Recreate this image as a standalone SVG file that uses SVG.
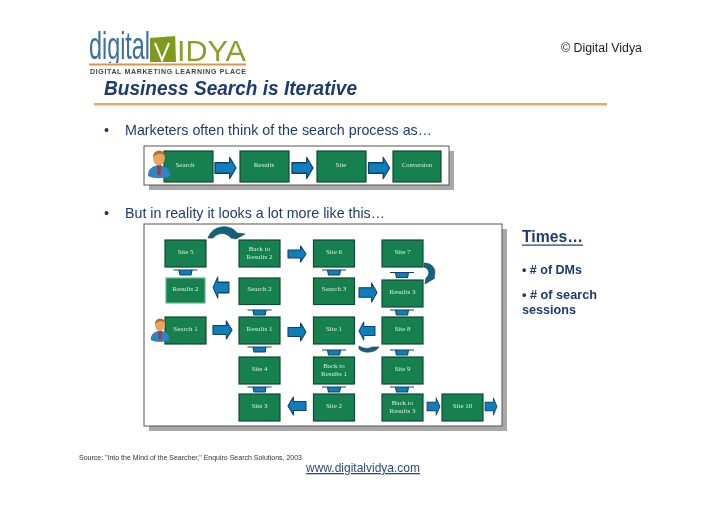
<svg xmlns="http://www.w3.org/2000/svg" xmlns:xlink="http://www.w3.org/1999/xlink" width="728" height="515" viewBox="0 0 728 515">
<style>
text{font-family:"Liberation Sans",Arial,sans-serif}
.box{fill:#14814f;stroke:#0d4a36;stroke-width:1.2}
.lt{fill:#14814f;stroke:#5fb98c;stroke-width:1.2}
.nt{fill:#d5efe2;font-family:"Liberation Serif",serif;font-size:7px;text-anchor:middle}
.frame{fill:#fff;stroke:#555;stroke-width:1}
.shadow{fill:#a9a9a9}
.arr{fill:#0f7fbd;stroke:#12405e;stroke-width:1.2;stroke-linejoin:round}
.curve{fill:#17607f;stroke:#123f58;stroke-width:.6}
.blue{fill:#1f3a6e}
.b{font-weight:bold}
</style>
<defs>
<filter id="soft" x="-5%" y="-5%" width="110%" height="110%"><feGaussianBlur stdDeviation="0.55"/></filter>
<clipPath id="logoclip"><rect x="85" y="25" width="170" height="38"/></clipPath>
<path id="ar" class="arr" d="M-10-5H4V-10L10 0 4 10V5H-10Z"/>
<path id="tee" class="arr" d="M-12 0H12M-6.500 0H6.500L5.500 5H-5.500Z"/>
<g id="person">
<path d="M-11 13C-11 5-6 3 0 2 6 3 11 5 11 13 5 16-5 16-11 13Z" fill="#2f83c9"/>
<path d="M-2 2H2L1.500 12H-1.500Z" fill="#9c3b3b"/>
<ellipse cx="0" cy="-5" rx="6" ry="7.500" fill="#e9a562"/>
<path d="M-6-6C-6-14 6-14 6-7 3-10-2-10-6-6Z" fill="#b9701f"/>
</g>
</defs>
<rect width="728" height="515" fill="#fff"/>

<g id="logo" filter="url(#soft)">
<g clip-path="url(#logoclip)">
<text transform="translate(89 59) scale(.615 1)" font-size="38" fill="#3b6fa0">digital</text>
<path d="M150 38 175 36 175 31 176 62H150Z" fill="#7f9a1f"/>
<path d="M155 43 162 60 169 43" fill="none" stroke="#fff" stroke-width="2"/>
<text x="177" y="61" font-size="29" fill="#8aa02c" textLength="69" lengthAdjust="spacingAndGlyphs">IDYA</text>
</g>
<rect x="89" y="63.500" width="157" height="2" fill="#d9954a"/>
<text x="90" y="74" font-size="7" font-weight="bold" fill="#444" textLength="156" lengthAdjust="spacing">DIGITAL MARKETING LEARNING PLACE</text>
</g>

<g id="headings" filter="url(#soft)">
<text x="104" y="95" font-size="20" class="b blue" font-style="italic" textLength="253" lengthAdjust="spacingAndGlyphs">Business Search is Iterative</text>
<rect x="94" y="103" width="513" height="2.500" fill="#f2a55c"/>
<text x="104" y="135" font-size="14.500" class="blue">•</text>
<text x="125" y="135" font-size="14.500" class="blue" textLength="307" lengthAdjust="spacingAndGlyphs">Marketers often think of the search process as…</text>
<text x="104" y="218" font-size="14.500" class="blue">•</text>
<text x="125" y="218" font-size="14.500" class="blue" textLength="260" lengthAdjust="spacingAndGlyphs">But in reality it looks a lot more like this…</text>
</g>

<g id="frames" filter="url(#soft)">
<rect class="shadow" x="149" y="151" width="305" height="39"/>
<rect class="frame" x="144" y="146" width="305" height="39"/>
<rect class="shadow" x="149" y="229" width="358" height="202"/>
<rect class="frame" x="144" y="224" width="358" height="202"/>
</g>

<g id="connectors" filter="url(#soft)">
<use xlink:href="#ar" transform="translate(225.500 168) scale(1.050 1.050)"/>
<use xlink:href="#ar" transform="translate(302.500 168) scale(1.050 1.050)"/>
<use xlink:href="#ar" transform="translate(379 168) scale(1.050 1.050)"/>
<use xlink:href="#ar" transform="translate(297 254) scale(.9 .8)"/>
<use xlink:href="#ar" transform="translate(221 287.500) scale(-.8 1.050)"/>
<use xlink:href="#ar" transform="translate(222.500 330) scale(.95 .9)"/>
<use xlink:href="#ar" transform="translate(297 332) scale(.9 .9)"/>
<use xlink:href="#ar" transform="translate(297 406) scale(-.9 .9)"/>
<use xlink:href="#ar" transform="translate(368 292.500) scale(.9 .95)"/>
<use xlink:href="#ar" transform="translate(367 331) scale(-.8 .9)"/>
<use xlink:href="#ar" transform="translate(433.500 406.500) scale(.65 .85)"/>
<use xlink:href="#ar" transform="translate(491 406.500) scale(.6 .85)"/>
<use xlink:href="#tee" transform="translate(185.500 270)"/>
<use xlink:href="#tee" transform="translate(259.500 310)"/>
<use xlink:href="#tee" transform="translate(259.500 347)"/>
<use xlink:href="#tee" transform="translate(259.500 387)"/>
<use xlink:href="#tee" transform="translate(334 270)"/>
<use xlink:href="#tee" transform="translate(334 350)"/>
<use xlink:href="#tee" transform="translate(334 387)"/>
<use xlink:href="#tee" transform="translate(402 272.500)"/>
<use xlink:href="#tee" transform="translate(402 310)"/>
<use xlink:href="#tee" transform="translate(402 350)"/>
<use xlink:href="#tee" transform="translate(402 387)"/>
<path class="curve" d="M208 238C213 224 231 224 237 233L245 234 236 239 231 238C226 232 218 232 213 238Z"/>
<path class="curve" d="M424 263C433 263 437 270 434 277L435 278 425 284 426 278C430 275 430 269 424 267Z"/>
<path class="curve" d="M359 346C364 349 369 349 372 347L379 347C375 353 364 354 359 349Z"/>
</g>

<g id="node-search" filter="url(#soft)"><rect class="box" x="164" y="151" width="49" height="31"/><text class="nt" x="185" y="167">Search</text></g>
<g id="node-results" filter="url(#soft)"><rect class="box" x="240" y="151" width="49" height="31"/><text class="nt" x="264" y="167">Results</text></g>
<g id="node-site" filter="url(#soft)"><rect class="box" x="317" y="151" width="49" height="31"/><text class="nt" x="341" y="167">Site</text></g>
<g id="node-conversion" filter="url(#soft)"><rect class="box" x="393" y="151" width="48" height="31"/><text class="nt" x="417" y="167" style="font-size:6.500px">Conversion</text></g>
<g id="person-top" filter="url(#soft)"><use xlink:href="#person" transform="translate(159 163)"/></g>

<g id="node-site5" filter="url(#soft)"><rect class="box" x="165" y="240" width="41" height="27"/><text class="nt" x="185.500" y="254">Site 5</text></g>
<g id="node-back2" filter="url(#soft)"><rect class="box" x="239" y="240" width="41" height="27"/><text class="nt" x="259.500" y="251">Back to</text><text class="nt" x="259.500" y="259">Results 2</text></g>
<g id="node-site6" filter="url(#soft)"><rect class="box" x="313.500" y="240" width="41" height="27"/><text class="nt" x="334" y="254">Site 6</text></g>
<g id="node-site7" filter="url(#soft)"><rect class="box" x="382" y="240" width="41" height="27"/><text class="nt" x="402.500" y="254">Site 7</text></g>
<g id="node-results2" filter="url(#soft)"><rect class="lt" x="166" y="278" width="39" height="25"/><text class="nt" x="185.500" y="291">Results 2</text></g>
<g id="node-search2" filter="url(#soft)"><rect class="box" x="239" y="278" width="41" height="26.500"/><text class="nt" x="259.500" y="291">Search 2</text></g>
<g id="node-search3" filter="url(#soft)"><rect class="box" x="313.500" y="278" width="41" height="26.500"/><text class="nt" x="334" y="291">Search 3</text></g>
<g id="node-results3" filter="url(#soft)"><rect class="box" x="382" y="280" width="41" height="27"/><text class="nt" x="402.500" y="294">Results 3</text></g>
<g id="node-search1" filter="url(#soft)"><rect class="box" x="165" y="317" width="41" height="27"/><text class="nt" x="185.500" y="331">Search 1</text></g>
<g id="person-main" filter="url(#soft)"><use xlink:href="#person" transform="translate(160 329) scale(.85)"/></g>
<g id="node-results1" filter="url(#soft)"><rect class="box" x="239" y="317" width="41" height="27"/><text class="nt" x="259.500" y="331">Results 1</text></g>
<g id="node-site1" filter="url(#soft)"><rect class="box" x="313.500" y="317" width="41" height="27"/><text class="nt" x="334" y="331">Site 1</text></g>
<g id="node-site8" filter="url(#soft)"><rect class="box" x="382" y="317" width="41" height="27"/><text class="nt" x="402.500" y="331">Site 8</text></g>
<g id="node-site4" filter="url(#soft)"><rect class="box" x="239" y="357" width="41" height="27"/><text class="nt" x="259.500" y="371">Site 4</text></g>
<g id="node-back1" filter="url(#soft)"><rect class="box" x="313.500" y="357" width="41" height="27"/><text class="nt" x="334" y="368">Back to</text><text class="nt" x="334" y="376">Results 1</text></g>
<g id="node-site9" filter="url(#soft)"><rect class="box" x="382" y="357" width="41" height="27"/><text class="nt" x="402.500" y="371">Site 9</text></g>
<g id="node-site3" filter="url(#soft)"><rect class="box" x="239" y="394" width="41" height="27"/><text class="nt" x="259.500" y="408">Site 3</text></g>
<g id="node-site2" filter="url(#soft)"><rect class="box" x="313.500" y="394" width="41" height="27"/><text class="nt" x="334" y="408">Site 2</text></g>
<g id="node-back3" filter="url(#soft)"><rect class="box" x="382" y="394" width="41" height="27"/><text class="nt" x="402.500" y="405">Back to</text><text class="nt" x="402.500" y="413">Results 3</text></g>
<g id="node-site10" filter="url(#soft)"><rect class="box" x="442" y="394" width="41" height="27"/><text class="nt" x="462.500" y="408">Site 10</text></g>

<g id="side-notes" filter="url(#soft)">
<text x="522" y="242" font-size="17" class="b blue" textLength="61" lengthAdjust="spacingAndGlyphs">Times…</text>
<rect x="522" y="244.500" width="61" height="1.200" fill="#1f3a6e"/>
<text x="522" y="274" font-size="13.500" class="b blue" textLength="60" lengthAdjust="spacingAndGlyphs">• # of DMs</text>
<text x="522" y="299" font-size="13.500" class="b blue" textLength="75" lengthAdjust="spacingAndGlyphs">• # of search</text>
<text x="522" y="314" font-size="13.500" class="b blue" textLength="54" lengthAdjust="spacingAndGlyphs">sessions</text>
</g>

<g id="footer">
<text x="79" y="460" font-size="7" fill="#333" textLength="223" lengthAdjust="spacingAndGlyphs" filter="url(#soft)">Source: "Into the Mind of the Searcher," Enquiro Search Solutions, 2003</text>
<text x="306" y="472" font-size="13" fill="#2b4a7f" text-decoration="underline" textLength="114" lengthAdjust="spacingAndGlyphs">www.digitalvidya.com</text>
<text x="561" y="52" font-size="12.500" fill="#222" textLength="81" lengthAdjust="spacingAndGlyphs">© Digital Vidya</text>
</g>
</svg>
